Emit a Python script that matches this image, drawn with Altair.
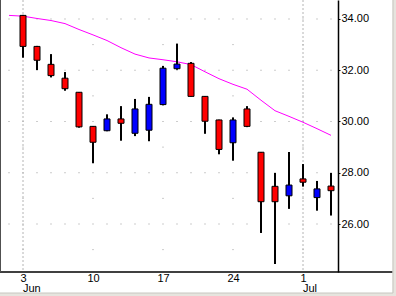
import altair as alt
import pandas as pd

# ---- data ----
dates = ["2002-06-03", "2002-06-04", "2002-06-05", "2002-06-06", "2002-06-07",
         "2002-06-10", "2002-06-11", "2002-06-12", "2002-06-13", "2002-06-14",
         "2002-06-17", "2002-06-18", "2002-06-19", "2002-06-20", "2002-06-21",
         "2002-06-24", "2002-06-25", "2002-06-26", "2002-06-27", "2002-06-28",
         "2002-07-01", "2002-07-02", "2002-07-03"]
opens = [34.14, 32.93, 32.23, 31.69, 31.14, 29.81, 29.64, 30.10, 29.54, 29.66,
         30.66, 32.06, 32.27, 30.98, 30.06, 29.17, 30.49, 28.80, 27.47, 27.10,
         27.76, 27.03, 27.48]
highs = [34.16, 32.95, 32.63, 31.93, 31.15, 29.82, 30.28, 30.60, 30.88, 30.96,
         32.17, 33.04, 32.32, 30.99, 30.07, 30.16, 30.60, 28.81, 27.99, 28.81,
         28.34, 27.68, 27.99]
lows = [32.49, 32.01, 31.72, 31.20, 29.76, 28.37, 29.62, 29.25, 29.43, 29.23,
        30.63, 32.02, 30.97, 29.52, 28.72, 28.47, 29.78, 25.65, 24.44, 26.59,
        27.46, 26.52, 26.33]
closes = [32.93, 32.39, 31.79, 31.28, 29.79, 29.19, 30.10, 29.93, 30.49, 30.67,
          32.08, 32.24, 30.98, 30.01, 28.91, 30.06, 29.81, 26.87, 26.87, 27.52,
          27.63, 27.37, 27.30]

ma_index = list(range(-1, 23))
ma_values = [34.14, 34.11, 34.02, 33.94, 33.82, 33.59, 33.38, 33.16, 32.88, 32.63,
             32.48, 32.41, 32.33, 32.22, 31.94, 31.67, 31.45, 31.26, 30.83, 30.42,
             30.20, 29.97, 29.72, 29.46]

tick_index = [0, 5, 10, 15, 20]
tick_labels = ["3", "10", "17", "24", "1"]
month_index = [0, 20]
month_labels = ["Jun", "Jul"]
y_label_values = [26, 28, 30, 32, 34]
grid_even = [26, 28, 30, 32, 34]
grid_odd = [25, 27, 29, 31, 33]

FONT = "Liberation Sans"

candles = pd.DataFrame({
    "i": list(range(len(dates))), "date": dates,
    "open": opens, "high": highs, "low": lows, "close": closes,
})
candles["dir"] = ["up" if c >= o else "down" for o, c in zip(opens, closes)]
ma = pd.DataFrame({"i": ma_index, "ma": ma_values})
months = pd.DataFrame({"i": month_index, "label": month_labels})
ge = pd.DataFrame({"v": grid_even})
go = pd.DataFrame({"v": grid_odd})
one = pd.DataFrame({"k": [0]})

xscale = alt.Scale(domain=[-1.643, 22.5], nice=False, zero=False, padding=0)
yscale = alt.Scale(domain=[24.127, 34.741], nice=False, zero=False, padding=0)

expr = "''"
for v, l in zip(reversed(tick_index), reversed(tick_labels)):
    expr = f"datum.value == {v} ? '{l}' : ({expr})"

xaxis = alt.Axis(values=tick_index, labelExpr=expr, grid=False, ticks=False,
                 domain=False, labelFont=FONT, labelFontSize=11, labelColor="black",
                 labelPadding=0, labelFlush=False, title=None)
yaxis = alt.Axis(orient="right", values=y_label_values, format=".2f", grid=False,
                 domainColor="black", domainWidth=1.5, tickColor="black", tickSize=2,
                 labelFont=FONT, labelFontSize=11, labelColor="black",
                 labelPadding=1, title=None)

X = lambda f: alt.X(f, scale=xscale, axis=xaxis)
Y = lambda f: alt.Y(f, scale=yscale, axis=yaxis)

grid_e = alt.Chart(ge).mark_rule(color="#9a9a9a", strokeWidth=1,
                                 strokeDash=[1, 13], strokeDashOffset=5.5).encode(
    x=alt.value(0), x2=alt.value(338), y=Y("v:Q"))
grid_o = alt.Chart(go).mark_rule(color="#9a9a9a", strokeWidth=1,
                                 strokeDash=[1, 69], strokeDashOffset=47.5).encode(
    x=alt.value(0), x2=alt.value(338), y=Y("v:Q"))
vgrid = alt.Chart(months).mark_rule(color="#b4b4b4", strokeWidth=1,
                                    strokeDash=[2, 2]).encode(x=X("i:Q"))

ma_line = alt.Chart(ma).mark_line(color="#ff00ff", strokeWidth=1).encode(
    x=X("i:Q"), y=Y("ma:Q"))

wick = alt.Chart(candles).mark_rule(color="black", strokeWidth=2).encode(
    x=X("i:Q"), y=Y("low:Q"), y2="high:Q")
body = alt.Chart(candles).mark_bar(size=6, stroke="black", strokeWidth=1).encode(
    x=X("i:Q"), y=Y("open:Q"), y2="close:Q",
    color=alt.Color("dir:N", scale=alt.Scale(domain=["up", "down"],
                                             range=["#0000ff", "#ff0000"]),
                    legend=None))

month_text = alt.Chart(months).mark_text(align="left", baseline="top",
                                         font=FONT, fontSize=11, color="black").encode(
    x=X("i:Q"), y=alt.value(283), text="label:N")

# frame decorations
xline = alt.Chart(one).mark_rule(color="black", strokeWidth=1.5).encode(
    x=alt.value(0), x2=alt.value(393), y=alt.value(272))
lline = alt.Chart(one).mark_rule(color="#505050", strokeWidth=1).encode(
    x=alt.value(0.5), y=alt.value(0), y2=alt.value(272))
rband = alt.Chart(one).mark_rect(color="#e6e4de").encode(
    x=alt.value(392.5), x2=alt.value(396), y=alt.value(0), y2=alt.value(296))
bband = alt.Chart(one).mark_rect(color="#e6e4de").encode(
    x=alt.value(0), x2=alt.value(396), y=alt.value(293), y2=alt.value(296))
rline = alt.Chart(one).mark_rule(color="#c8c6c0", strokeWidth=1).encode(
    x=alt.value(393), y=alt.value(0), y2=alt.value(293))
bline = alt.Chart(one).mark_rule(color="#c8c6c0", strokeWidth=1).encode(
    x=alt.value(0), x2=alt.value(393), y=alt.value(293))

chart = alt.layer(
    grid_e, grid_o, vgrid, ma_line, wick, body, month_text,
    xline, lline, rband, bband, rline, bline
).properties(
    width=338, height=272,
    autosize="none",
    padding={"left": 0, "top": 0, "right": 58, "bottom": 24},
    background="white",
).configure_view(stroke=None)

chart.save("out.html", embed_options={"renderer": "svg", "actions": False})
